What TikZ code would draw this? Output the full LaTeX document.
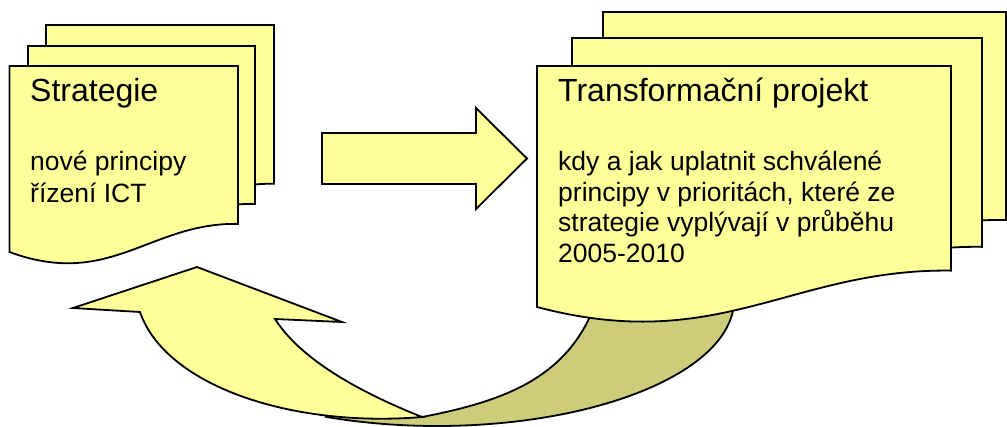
\documentclass[tikz,border=0pt]{standalone}
\usepackage{fontspec}
\setmainfont{Liberation Sans}
\definecolor{docyellow}{HTML}{FFFF99}
\definecolor{bandshade}{HTML}{CCCC7A}
\newcommand\docsheet[4]{%
  \draw[sheet] (#1,#2) -- ({#1+#3},#2) -- ({#1+#3},{#2+0.849*#4})
    .. controls ({#1+0.615*#3},{#2+0.84*#4}) and ({#1+0.44*#3},{#2+1.2*#4}) .. (#1,{#2+#4}) -- cycle;}
\begin{document}
\begin{tikzpicture}[x=1pt,y=-1pt,
  sheet/.style={fill=docyellow,draw=black,line width=1.8pt,line join=miter},
  band/.style={fill=bandshade,draw=black,line width=1.8pt},
  titletext/.style={anchor=base west,inner sep=0pt,font=\fontsize{32}{38}\selectfont},
  bodytext/.style={anchor=base west,inner sep=0pt,font=\fontsize{26.5}{31}\selectfont}]
\useasboundingbox (0,0) rectangle (1007,426);
% left document stack
\docsheet{46}{25}{228}{187}
\docsheet{28}{46}{227}{186}
\docsheet{9.5}{66}{228.5}{186}
\node[titletext] (t1) at (30,101) {Strategie};
\node[bodytext] (b1) at (30,170) {nové principy};
\node[bodytext] (b2) at (30,202) {řízení ICT};
% straight arrow
\draw[sheet] (322,133) -- (476,133) -- (476,108) -- (527,158.5) -- (476,209) -- (476,184) -- (322,184) -- cycle;
% curved arrow: dark back part
\draw[band] (422,417) .. controls (510,400) and (575,375) .. (600,290) -- (734,300)
  -- plot[domain=0:112,samples=80] ({437+297*cos(\x)},{300+126*sin(\x)}) -- (330,400) -- cycle;
% curved arrow: light front part
\draw[sheet] (197,267) -- (342,322) -- (275,319) .. controls (302,361) and (362,393) .. (422,417)
  .. controls (290,428) and (165,385) .. (140,312) -- (73,308) -- cycle;
% right document stack
\docsheet{603}{12}{403}{245}
\docsheet{572}{38}{410}{246}
\docsheet{537}{66}{414}{241}
\node[titletext] (t2) at (558,101) {Transformační projekt};
\node[bodytext] (c1) at (558,170) {kdy a jak uplatnit schválené};
\node[bodytext] (c2) at (558,201) {principy v prioritách, které ze};
\node[bodytext] (c3) at (558,231) {strategie vyplývají v průběhu};
\node[bodytext] (c4) at (558,262) {2005-2010};
\end{tikzpicture}
\end{document}
